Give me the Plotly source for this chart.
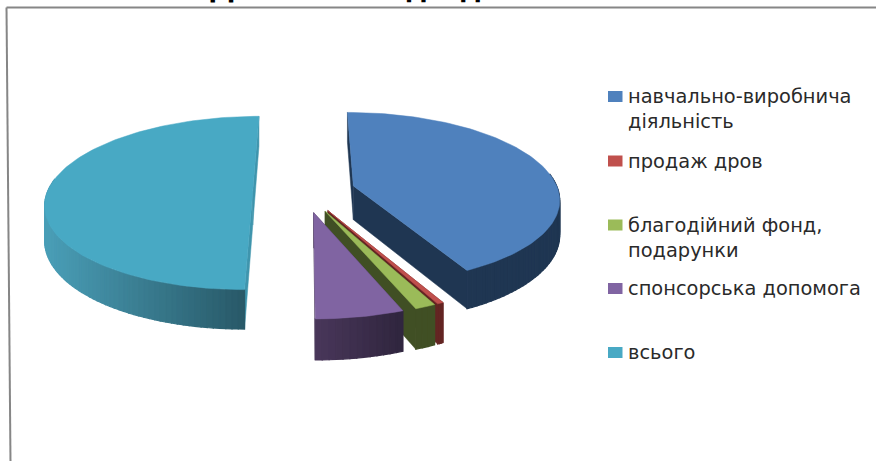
import math
import plotly.graph_objects as go

categories = ["навчально-виробнича<br>діяльність", "продаж дров", "благодійний фонд,<br>подарунки", "спонсорська допомога", "всього"]
values = [42.36, 0.42, 1.39, 5.83, 50.0]
title_text = "Динаміка надходження коштів"

top_colors = ["#4F81BD", "#C0504D", "#9BBB59", "#8064A2", "#48A9C4"]
wall_left = ["#1F3652", "#632523", "#404F24", "#483659", "#4A9FB8"]
wall_right = ["#1F3652", "#632523", "#404F24", "#30263F", "#295A69"]
radial_colors = ["#1F3652", "#632523", "#404F24", "#403151", "#3F95AD"]
legend_y = [96.5, 161, 225, 288.5, 352.5]
paint_order = [0, 4, 1, 2, 3]

CX, CY, RX, RY, K, DEPTH, EXPLODE = 304, 191, 205, 85, 0.138, 34, 0.25


def project(u, v, drop=0.0):
    w = 1 - K * v
    return CX + RX * u / w, CY + (RY * v + drop) / w


def point(center, theta, radius=1.0, drop=0.0):
    return project(center[0] + radius * math.sin(theta), center[1] - radius * math.cos(theta), drop)


def hex_mix(a, b, t):
    ca = [int(a[i:i + 2], 16) for i in (1, 3, 5)]
    cb = [int(b[i:i + 2], 16) for i in (1, 3, 5)]
    return "#%02x%02x%02x" % tuple(round(x + (y - x) * t) for x, y in zip(ca, cb))


fig = go.Figure()


def poly(pts, color, width=1.0):
    fig.add_trace(go.Scatter(
        x=[p[0] for p in pts] + [pts[0][0]], y=[p[1] for p in pts] + [pts[0][1]],
        mode="lines", fill="toself", fillcolor=color,
        line=dict(color=color, width=width), hoverinfo="skip", showlegend=False))


total = sum(values)
starts, acc = [], 0.0
for val in values:
    starts.append(acc)
    acc += val / total * 2 * math.pi

for i in paint_order:
    a0 = starts[i]
    a1 = a0 + values[i] / total * 2 * math.pi
    mid = (a0 + a1) / 2
    c = (EXPLODE * math.sin(mid), -EXPLODE * math.cos(mid))
    for a in (a0, a1):
        poly([point(c, a, 0), point(c, a), point(c, a, 1, DEPTH), point(c, a, 0, DEPTH)], radial_colors[i], 0.5)
    n = max(3, int((a1 - a0) / math.radians(1.5)))
    angles = [a0 + (a1 - a0) * j / n for j in range(n + 1)]
    front = [(p, q) for p, q in zip(angles, angles[1:]) if math.cos((p + q) / 2) < 0.15]
    if front:
        xs = [point(c, (p + q) / 2)[0] for p, q in front]
        lo, hi = min(xs), max(xs)
        order = sorted(zip(xs, front))
        for x, (p, q) in order:
            t = (x - lo) / (hi - lo) if hi > lo else 0
            poly([point(c, p), point(c, q), point(c, q, 1, DEPTH), point(c, p, 1, DEPTH)],
                 hex_mix(wall_left[i], wall_right[i], t), 1.2)
    poly([point(c, a, 0)] + [point(c, a) for a in angles], top_colors[i], 0.5)

annotations = []
shapes = [
    dict(type="line", x0=6.5, y0=7.6, x1=876, y1=7.6, line=dict(color="#868686", width=2)),
    dict(type="line", x0=6.5, y0=7.6, x1=10.5, y1=461, line=dict(color="#868686", width=2)),
]
for name, col, y in zip(categories, top_colors, legend_y):
    shapes.append(dict(type="rect", x0=608, x1=622.5, y0=y - 5.5, y1=y + 5.5, fillcolor=col, line=dict(width=0)))
    annotations.append(dict(x=626, y=y - 13.5, xref="x", yref="y", text=name, showarrow=False, align="left",
                            xanchor="left", yanchor="top",
                            font=dict(family="DejaVu Sans", size=19.4, color="#2a2a2a")))

fig.update_layout(
    width=876, height=461, margin=dict(l=0, r=0, t=0, b=0), paper_bgcolor="white", plot_bgcolor="white",
    title=dict(text="<b>%s</b>" % title_text, x=453 / 876, xanchor="center", xref="paper",
               y=1.0, yanchor="bottom", yref="container", pad=dict(b=2),
               font=dict(family="Noto Sans", size=30, color="#000000")),
    xaxis=dict(range=[0, 876], visible=False, fixedrange=True),
    yaxis=dict(range=[461, 0], visible=False, fixedrange=True),
    shapes=shapes, annotations=annotations, showlegend=False)
fig.write_html("out.html", config=dict(displayModeBar=False), post_script="document.body.style.margin='0';")
